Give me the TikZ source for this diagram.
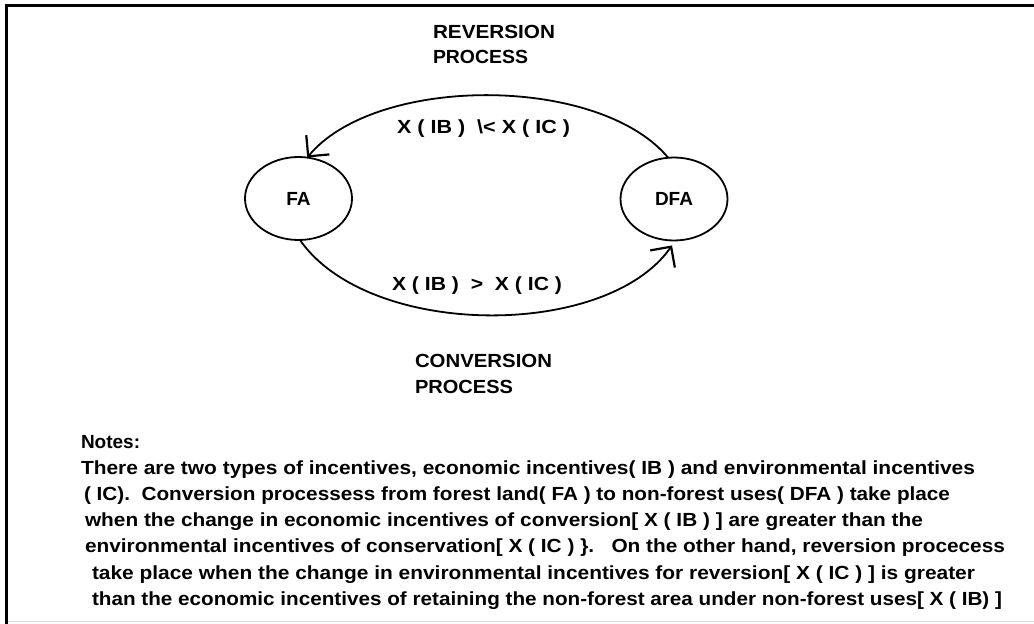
\documentclass[tikz,border=0pt]{standalone}
\usepackage{fontspec}
\setmainfont{Liberation Sans}
\usepackage{graphicx}
\usetikzlibrary{shapes.geometric,arrows.meta}
\newcommand\fitw[2]{\resizebox{#1pt}{\height}{#2}}
\begin{document}
\begin{tikzpicture}[x=1pt,y=-1pt,
  every node/.style={inner sep=0pt,outer sep=0pt,font=\fontsize{19}{22}\selectfont\bfseries},
  txt/.style={anchor=base west},
  ctxt/.style={anchor=base},
  state/.style={draw,ellipse,line width=1.8pt,minimum width=107pt,minimum height=83pt},
  flow/.style={line width=1.8pt,-{Straight Barb[length=15pt,width=30pt,line width=2.2pt]}},
  frame/.style={line width=3pt,black}]
\useasboundingbox (0,0) rectangle (1034,624);
\fill[white] (0,0) rectangle (1034,624);
% frame
\coordinate (f1) at (6.5,624);
\coordinate (f2) at (6.5,5.5);
\coordinate (f3) at (1034,5.5);
\draw[frame] (f1) -- (f2) -- (f3);
\coordinate (g1) at (8,621.5);
\coordinate (g2) at (1034,621.5);
\draw[line width=1.5pt,black!15] (g1) -- (g2);
% states
\node[state] (fa) at (298.5,198.5) {FA};
\node[state] (dfa) at (674,199) {DFA};
% arcs
\draw[flow] (dfa.98) .. controls +(-69,-83) and +(69,-83) .. (fa.78);
\draw[flow,shorten >=6pt] (fa.-88) .. controls +(69,99) and +(-69,99) .. (dfa.-88);
% labels
\node[txt] (rev1) at (433,38) {\fitw{122}{REVERSION}};
\node[txt] (rev2) at (433,63) {\fitw{95}{PROCESS}};
\node[txt] (con1) at (415,367) {\fitw{137}{CONVERSION}};
\node[txt] (con2) at (415,393) {\fitw{98}{PROCESS}};
\node[txt] (lup) at (397,133) {\fitw{173}{X ( IB )\ \ \textbackslash< X ( IC )}};
\node[txt] (llo) at (392,290) {\fitw{170}{X ( IB )\ \ >\ \ X ( IC )}};
% notes
\node[txt] (notes) at (81,448) {Notes:};
\node[txt] (n1) at (81,474) {\fitw{894}{There are two types of incentives, economic incentives( IB ) and environmental incentives}};
\node[txt] (n2) at (84,500) {\fitw{866}{( IC).\ \ Conversion processess from forest land( FA ) to non-forest uses( DFA ) take place}};
\node[txt] (n3) at (85,526) {\fitw{838}{when the change in economic incentives of conversion[ X ( IB ) ] are greater than the}};
\node[txt] (n4) at (85,552) {\fitw{920}{environmental incentives of conservation[ X ( IC ) \}.\ \ \ On the other hand, reversion procecess}};
\node[txt] (n5) at (92,579) {\fitw{883}{take place when the change in environmental incentives for reversion[ X ( IC ) ] is greater}};
\node[txt] (n6) at (92,605) {\fitw{910}{than the economic incentives of retaining the non-forest area under non-forest uses[ X ( IB) ]}};
\end{tikzpicture}
\end{document}
